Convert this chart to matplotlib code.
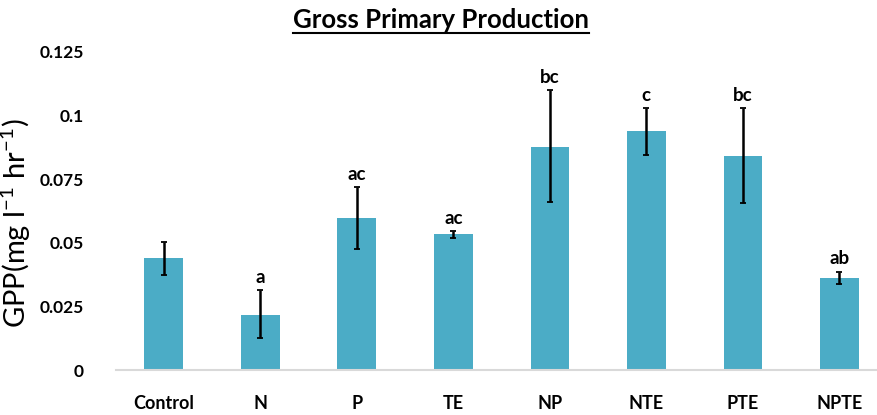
import matplotlib.pyplot as plt
import numpy as np

treatments = ['Control', 'N', 'P', 'TE', 'NP', 'NTE', 'PTE', 'NPTE']
gpp_mean = [0.0440, 0.0218, 0.0597, 0.0535, 0.0878, 0.0938, 0.0843, 0.0362]
err_low = [0.0375, 0.0126, 0.0475, 0.0520, 0.0660, 0.0845, 0.0655, 0.0337]
err_high = [0.0505, 0.0315, 0.0720, 0.0547, 0.1100, 0.1030, 0.1030, 0.0387]
letters = ['', 'a', 'ac', 'ac', 'bc', 'c', 'bc', 'ab']
y_ticks = [0, 0.025, 0.05, 0.075, 0.1, 0.125]
y_tick_labels = ['0', '0.025', '0.05', '0.075', '0.1', '0.125']

bar_color = '#4bacc6'

plt.rcParams['mathtext.fontset'] = 'custom'
plt.rcParams['mathtext.rm'] = 'Lato'
plt.rcParams['mathtext.it'] = 'Lato'

fig = plt.figure(figsize=(8.77, 4.15), dpi=100)
ax = fig.add_axes([0.1317, 0.1084, 0.8683, 0.7663])

x = np.arange(len(treatments))
mean = np.array(gpp_mean)
yerr = np.vstack([mean - np.array(err_low), np.array(err_high) - mean])

ax.bar(x, mean, width=0.4, color=bar_color, zorder=2)
ax.errorbar(x, mean, yerr=yerr, fmt='none', ecolor='black', elinewidth=1.8,
            capsize=2, capthick=1.3, zorder=3)

# significance letters above the error bars
for xi, top, lab in zip(x, err_high, letters):
  if lab:
    ax.annotate(lab, (xi, top), xytext=(0, 3), textcoords='offset points',
                ha='center', va='bottom', fontsize=13.5, fontweight='bold',
                family='Lato')

ax.set_xlim(-0.5, 7.39)
ax.set_ylim(0, 0.125)
ax.set_xticks(x)
ax.set_xticklabels(treatments, fontsize=13, fontweight='bold', family='Lato')
ax.set_yticks(y_ticks)
ax.set_yticklabels(y_tick_labels, fontsize=12.5, fontweight='bold', family='Lato')
ax.tick_params(axis='both', length=0)
ax.tick_params(axis='x', pad=18)
ax.tick_params(axis='y', pad=23)

for side in ['top', 'right', 'left']:
  ax.spines[side].set_visible(False)
ax.spines['bottom'].set_color('#d9d9d9')
ax.spines['bottom'].set_linewidth(1.5)

ax.set_ylabel('GPP(mg l$^{\\mathrm{-1}}$ hr$^{\\mathrm{-1}}$)', fontsize=21, family='Lato')
ax.yaxis.set_label_coords(-0.108, 0.462)

title = fig.text(0.503, 0.952, 'Gross Primary Production', ha='center', va='center',
                 fontsize=18.5, fontweight='bold', family='Lato')

# underline the title
fig.canvas.draw()
bb = title.get_window_extent().transformed(fig.transFigure.inverted())
fig.add_artist(plt.Line2D([bb.x0, bb.x1], [bb.y0 - 0.003, bb.y0 - 0.003],
                          color='black', linewidth=1.5, transform=fig.transFigure))

plt.savefig('out.png', dpi=100)
